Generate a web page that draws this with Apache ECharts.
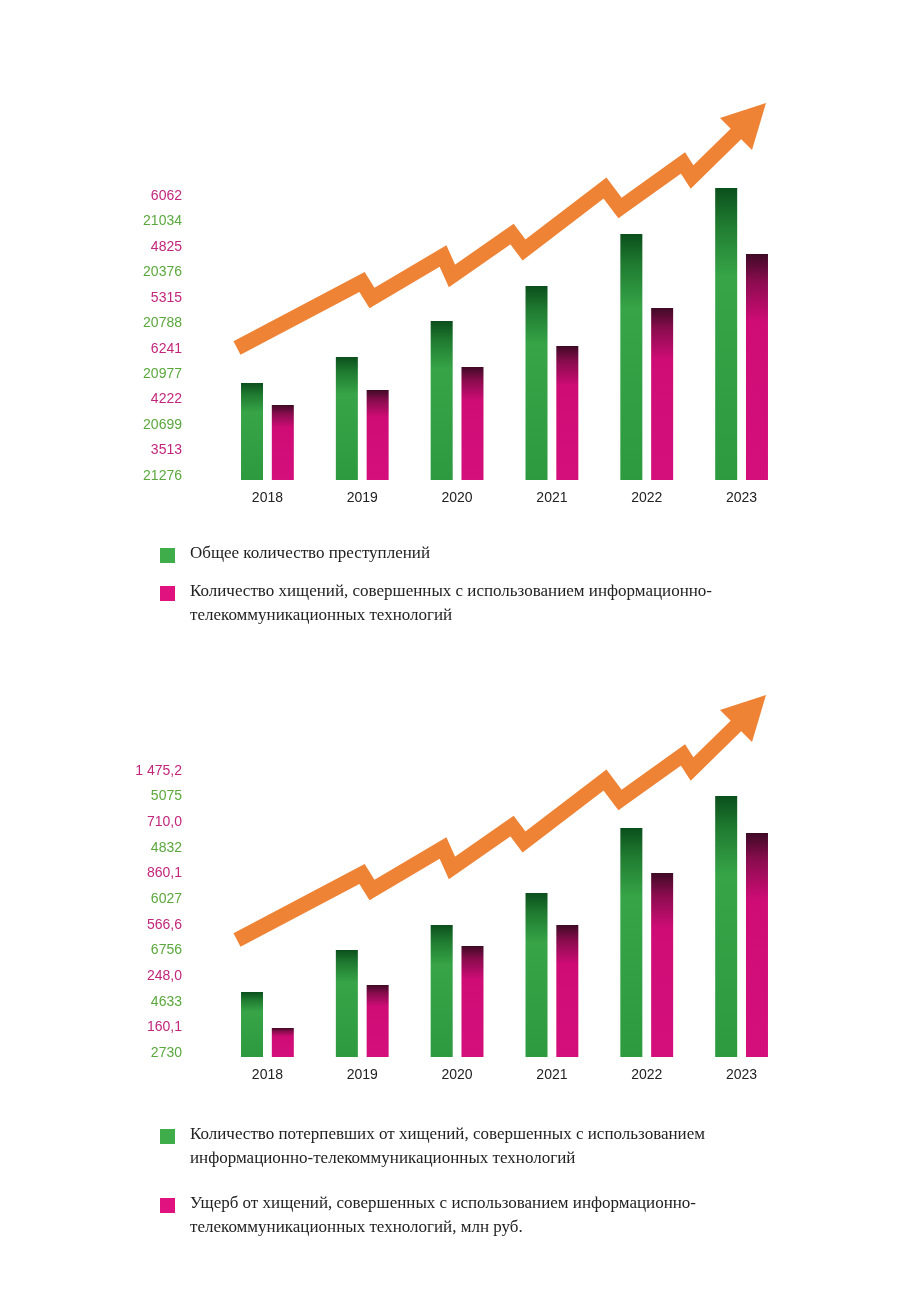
<!DOCTYPE html>
<html>
<head>
<meta charset="utf-8">
<script src="https://cdn.jsdelivr.net/npm/echarts@6/dist/echarts.min.js"></script>
<style>html,body{margin:0;background:#fff}#c{width:917px;height:1300px}</style>
</head>
<body>
<div id="c"></div>
<script>
// years on the x axis
var years = ["2018", "2019", "2020", "2021", "2022", "2023"];

// chart 1: decorative bar heights (bars are not to scale with the printed numbers)
var crimesBar = [97, 123, 159, 194, 246, 292];
var theftBar = [75, 90, 113, 134, 172, 226];
// printed values, bottom to top, alternating green / pink
var crimesVal = ["21276", "20699", "20977", "20788", "20376", "21034"];
var theftVal = ["3513", "4222", "6241", "5315", "4825", "6062"];

// chart 2
var victimsBar = [65, 107, 132, 164, 229, 261];
var damageBar = [29, 72, 111, 132, 184, 224];
var victimsVal = ["2730", "4633", "6756", "6027", "4832", "5075"];
var damageVal = ["160,1", "248,0", "566,6", "860,1", "710,0", "1 475,2"];

var GREEN_TXT = "#5aa83c", PINK_TXT = "#c2267c";

function labelList(g, p) {
  var out = [];
  for (var i = 0; i < g.length; i++) {
    out.push({ value: g[i], textStyle: { color: GREEN_TXT } });
    out.push({ value: p[i], textStyle: { color: PINK_TXT } });
  }
  return out;
}

var greenFill = new echarts.graphic.LinearGradient(0, 0, 0, 1, [
  { offset: 0, color: "#0b4f1c" }, { offset: 0.12, color: "#1f7a30" },
  { offset: 0.3, color: "#36a447" }, { offset: 1, color: "#2d9a3f" }]);
var pinkFill = new echarts.graphic.LinearGradient(0, 0, 0, 1, [
  { offset: 0, color: "#3f0a26" }, { offset: 0.12, color: "#8a0c4e" },
  { offset: 0.3, color: "#cf0c76" }, { offset: 1, color: "#d40f7c" }]);

var chart = echarts.init(document.getElementById("c"));

function arrow(dy) {
  var pts = [[237, 348], [362, 282], [372, 298], [443, 256], [452, 276], [512, 234],
    [524, 250], [605, 188], [620, 208], [683, 163], [692, 177], [742, 128]];
  return [
    { type: "polyline", shape: { points: pts.map(function (p) { return [p[0], p[1] + dy]; }) },
      style: { stroke: "#ee8235", lineWidth: 15, fill: null, lineJoin: "miter" } },
    { type: "polygon", shape: { points: [[766, 103 + dy], [720, 118 + dy], [752, 150 + dy]] },
      style: { fill: "#ee8235" } }
  ];
}

function legendItem(y, color, lines) {
  var g = [{ type: "rect", shape: { x: 160, y: y - 8, width: 15, height: 15 }, style: { fill: color } }];
  lines.forEach(function (t, i) {
    g.push({ type: "text", left: 190, top: y - 11 + i * 24,
      style: { text: t, font: "17px 'Liberation Serif'", fill: "#222" } });
  });
  return g;
}

var sans = "'Liberation Sans', Arial";
var grids = [
  { left: 220, right: 128, top: 180, height: 300 },
  { left: 220, right: 128, top: 757, height: 300 },
  { left: 130, width: 100, top: 196, height: 280 },
  { left: 130, width: 100, top: 771, height: 282 }
];

chart.setOption({
  animation: false,
  grid: grids,
  xAxis: [0, 1].map(function (i) {
    return { gridIndex: i, type: "category", data: years, axisLine: { show: false },
      axisTick: { show: false }, axisLabel: { color: "#222", fontSize: 14, fontFamily: sans, margin: 11 } };
  }).concat([2, 3].map(function (i) { return { gridIndex: i, show: false }; })),
  yAxis: [0, 1].map(function (i) {
    return { gridIndex: i, type: "value", min: 0, max: 300, show: false };
  }).concat([
    { gridIndex: 2, type: "category", boundaryGap: false, data: labelList(crimesVal, theftVal),
      axisLine: { show: false }, axisTick: { show: false },
      axisLabel: { align: "center", margin: -52, fontSize: 14, fontFamily: sans } },
    { gridIndex: 3, type: "category", boundaryGap: false, data: labelList(victimsVal, damageVal),
      axisLine: { show: false }, axisTick: { show: false },
      axisLabel: { align: "center", margin: -52, fontSize: 14, fontFamily: sans } }
  ]),
  series: [
    { type: "bar", xAxisIndex: 0, yAxisIndex: 0, data: crimesBar, barWidth: 22, barGap: "40%", itemStyle: { color: greenFill } },
    { type: "bar", xAxisIndex: 0, yAxisIndex: 0, data: theftBar, barWidth: 22, itemStyle: { color: pinkFill } },
    { type: "bar", xAxisIndex: 1, yAxisIndex: 1, data: victimsBar, barWidth: 22, barGap: "40%", itemStyle: { color: greenFill } },
    { type: "bar", xAxisIndex: 1, yAxisIndex: 1, data: damageBar, barWidth: 22, itemStyle: { color: pinkFill } }
  ],
  graphic: [].concat(
    arrow(0), arrow(592),
    legendItem(556, "#3fae4a", ["Общее количество преступлений"]),
    legendItem(594, "#e0127f", ["Количество хищений, совершенных с использованием информационно-",
      "телекоммуникационных технологий"]),
    legendItem(1137, "#3fae4a", ["Количество потерпевших от хищений, совершенных с использованием",
      "информационно-телекоммуникационных технологий"]),
    legendItem(1206, "#e0127f", ["Ущерб от хищений, совершенных с использованием информационно-",
      "телекоммуникационных технологий, млн руб."])
  )
});
</script>
</body>
</html>
